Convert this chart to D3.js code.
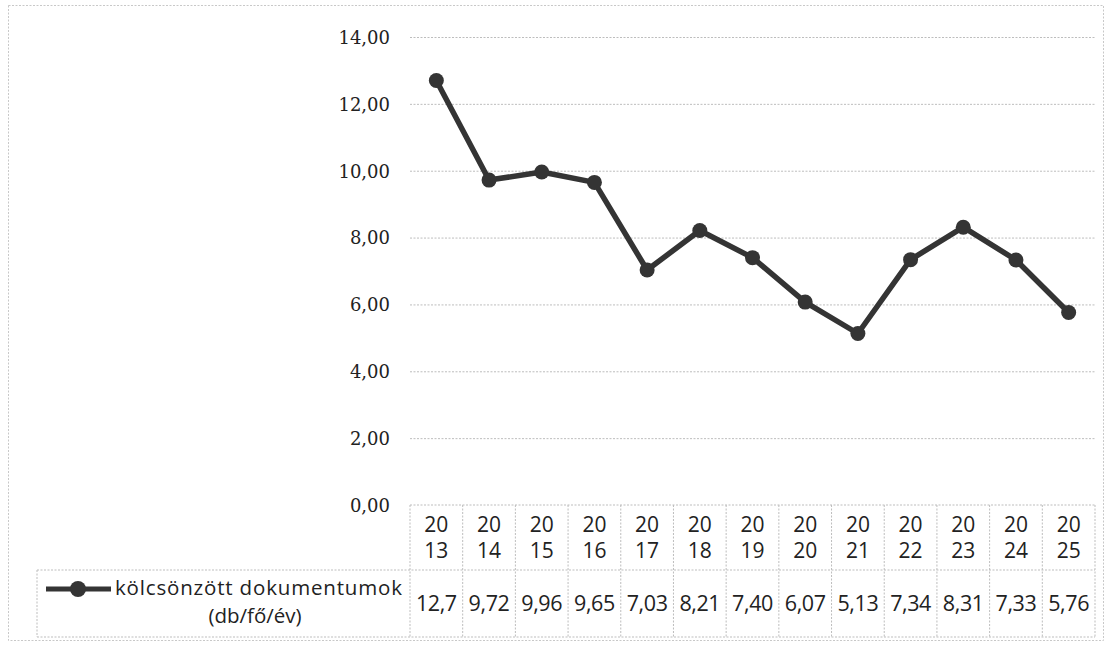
<!DOCTYPE html>
<html><head><meta charset="utf-8">
<script src="https://cdn.jsdelivr.net/npm/d3@7"></script>
<style>body{margin:0;background:#fff;}svg{display:block;}</style>
</head><body>
<svg id="c" width="1109" height="645"></svg>
<script>
const years = ["2013","2014","2015","2016","2017","2018","2019","2020","2021","2022","2023","2024","2025"];
const values = [12.7,9.72,9.96,9.65,7.03,8.21,7.40,6.07,5.13,7.34,8.31,7.33,5.76];
const valueLabels = ["12,7","9,72","9,96","9,65","7,03","8,21","7,40","6,07","5,13","7,34","8,31","7,33","5,76"];
const yTicks = [0,2,4,6,8,10,12,14];
const seriesName = ["kölcsönzött dokumentumok","(db/fő/év)"];

const svg = d3.select("#c");
const pL = 410, pR = 1095, pT = 37, pB = 505;
const x = d3.scaleBand().domain(years).range([pL, pR]);
const y = d3.scaleLinear().domain([0,14]).range([pB, pT]);
const grid = "#bdbdbd", lineCol = "#343434";

// outer border
svg.append("rect").attr("x",8.5).attr("y",5.5).attr("width",1095).attr("height",635)
  .attr("fill","none").attr("stroke","#c8c8c8").attr("stroke-dasharray","2,1.5");

// gridlines
const yAxis = d3.axisLeft(y).tickValues(yTicks).tickSize(-(pR-pL))
  .tickFormat(d => d3.format(".2f")(d).replace(".",","));
const ga = svg.append("g").attr("transform",`translate(${pL},0)`).call(yAxis);
ga.select(".domain").remove();
ga.selectAll(".tick line").attr("stroke",grid).attr("stroke-dasharray","2,1.5")
  .filter(d => d===0).remove();
ga.selectAll(".tick text").attr("x",-20).attr("dy","0.35em")
  .attr("font-family","'DejaVu Serif',serif").attr("font-size",18).attr("fill","#222");

// table
const rowA = [505, 570], rowB = [570, 637];
const tbl = svg.append("g").attr("stroke",grid).attr("stroke-dasharray","2,1.5").attr("fill","none");
tbl.append("line").attr("x1",pL).attr("x2",pR).attr("y1",rowA[0]).attr("y2",rowA[0]);
tbl.append("line").attr("x1",37).attr("x2",pR).attr("y1",rowB[0]).attr("y2",rowB[0]);
tbl.append("line").attr("x1",37).attr("x2",pR).attr("y1",rowB[1]).attr("y2",rowB[1]);
tbl.append("line").attr("x1",37).attr("x2",37).attr("y1",rowB[0]).attr("y2",rowB[1]);
const edges = years.map(d => x(d)).concat([pR]);
tbl.selectAll("line.v").data(edges).enter().append("line")
  .attr("x1",d=>d).attr("x2",d=>d).attr("y1",rowA[0]).attr("y2",rowB[1]);

const sans = "'Open Sans','Noto Sans',sans-serif";
const hdr = svg.append("g").attr("font-family",sans).attr("font-size",21).attr("fill","#222").attr("text-anchor","middle");
years.forEach(yr => {
  const cx = x(yr) + x.bandwidth()/2;
  hdr.append("text").attr("x",cx).attr("y",532).text(yr.slice(0,2));
  hdr.append("text").attr("x",cx).attr("y",558).text(yr.slice(2));
});
const vals = svg.append("g").attr("font-family",sans).attr("font-size",21.5).attr("fill","#222")
  .attr("text-anchor","middle").attr("letter-spacing","-0.4");
years.forEach((yr,i) => {
  vals.append("text").attr("x",x(yr)+x.bandwidth()/2).attr("y",611).text(valueLabels[i]);
});

// legend cell
svg.append("line").attr("x1",46).attr("x2",111).attr("y1",589).attr("y2",589)
  .attr("stroke",lineCol).attr("stroke-width",5);
svg.append("circle").attr("cx",78).attr("cy",589).attr("r",8).attr("fill",lineCol);
svg.append("text").attr("x",115).attr("y",595).attr("font-family",sans).attr("font-size",20.5)
  .attr("fill","#222").attr("textLength",287).attr("lengthAdjust","spacing").text(seriesName[0]);
svg.append("text").attr("x",255).attr("y",623).attr("font-family",sans).attr("font-size",20.5)
  .attr("fill","#222").attr("text-anchor","middle").text(seriesName[1]);

// series
const cxf = d => x(d) + x.bandwidth()/2;
const line = d3.line().x((d,i) => cxf(years[i])).y(d => y(d));
svg.append("path").datum(values).attr("d",line).attr("fill","none")
  .attr("stroke",lineCol).attr("stroke-width",5.5).attr("stroke-linejoin","round");
svg.selectAll("circle.pt").data(values).enter().append("circle")
  .attr("cx",(d,i)=>cxf(years[i])).attr("cy",d=>y(d)).attr("r",7.5).attr("fill",lineCol);
</script>
</body></html>
